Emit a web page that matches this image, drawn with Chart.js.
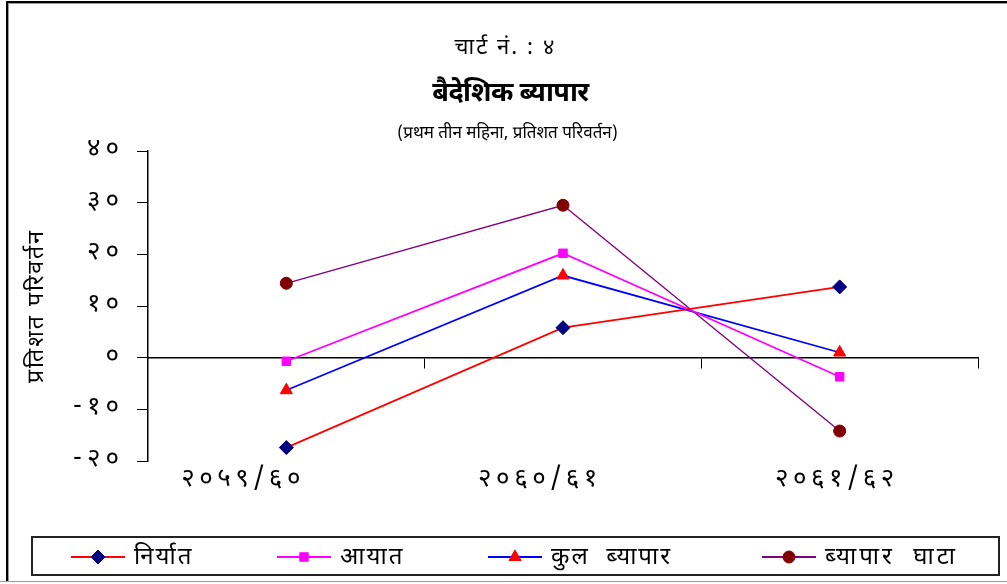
<!DOCTYPE html>
<html><head><meta charset="utf-8">
<script src="https://cdn.jsdelivr.net/npm/chart.js@4.4.1/dist/chart.umd.min.js"></script>
<style>html,body{margin:0;padding:0;background:#fff;overflow:hidden}</style>
</head><body>
<canvas id="c" width="1007" height="584"></canvas>
<script>
// ---- data ----
const categories = ['२०५९/६०', '२०६०/६१', '२०६१/६२'];
const seriesNames = ['निर्यात', 'आयात', 'कुल  ब्यापार', 'ब्यापार  घाटा'];
const exportsChange = [-17.4, 5.8, 13.7];
const importsChange = [-0.7, 20.2, -3.7];
const totalTradeChange = [-6.3, 15.9, 1.0];
const tradeDeficitChange = [14.4, 29.5, -14.2];
const yTickValues = [-20, -10, 0, 10, 20, 30, 40];
const yTickLabels = ['-२०', '-१०', '०', '१०', '२०', '३०', '४०'];
const chartNumber = 'चार्ट नं. : ४';
const chartTitle = 'बैदेशिक ब्यापार';
const chartSubtitle = '(प्रथम तीन महिना, प्रतिशत परिवर्तन)';
const yAxisTitle = 'प्रतिशत परिवर्तन';

const FONT = '"Noto Sans Devanagari", "Lohit Devanagari", "Noto Sans", sans-serif';

function makeSeries(label, data, lineColor, markColor, style, radius, width) {
  return {
    label, data,
    borderColor: lineColor, backgroundColor: markColor,
    pointBackgroundColor: markColor, pointBorderColor: markColor,
    pointStyle: style, pointRadius: radius, pointHoverRadius: radius,
    pointBorderWidth: 1, borderWidth: width, tension: 0, fill: false
  };
}

// draw a scale's tick labels with wider glyph spacing
function spaceLabels(scale, spacing) {
  if (scale._spacedLabels) return;
  scale._spacedLabels = true;
  const orig = scale.drawLabels;
  scale.drawLabels = function (area) {
    const ctx = this.ctx;
    const prev = ctx.letterSpacing;
    ctx.letterSpacing = spacing;
    orig.call(this, area);
    ctx.letterSpacing = prev;
  };
}

const frameAndTitles = {
  id: 'frameAndTitles',
  beforeDraw(chart) {
    const ctx = chart.ctx;
    const cx = chart.width / 2;
    ctx.save();
    ctx.letterSpacing = '0px';
    ctx.fillStyle = '#fff';
    ctx.fillRect(0, 0, chart.width, chart.height);
    ctx.fillStyle = '#000';
    ctx.fillRect(6, 1, 2, chart.height - 4);
    ctx.fillRect(6, 1, chart.width - 6, 2);
    ctx.fillStyle = '#9a9a9a';
    ctx.fillRect(8, 3, 1, chart.height - 6);
    ctx.fillRect(8, 3, chart.width - 8, 1);
    ctx.fillRect(0, chart.height - 3, chart.width, 1);
    ctx.fillStyle = '#000';
    ctx.textAlign = 'center';
    ctx.textBaseline = 'middle';
    ctx.letterSpacing = '2px';
    ctx.font = '22px ' + FONT;
    ctx.fillText(chartNumber, cx + 2, 50);
    ctx.letterSpacing = '-0.5px';
    ctx.font = 'bold 27px ' + FONT;
    ctx.fillText(chartTitle, cx + 7, 96);
    ctx.letterSpacing = '0px';
    ctx.font = '17px ' + FONT;
    ctx.fillText(chartSubtitle, cx + 4, 135);
    ctx.restore();
    ctx.letterSpacing = '2px';
  }
};

const boxLegend = {
  id: 'boxLegend',
  afterDraw(chart) {
    const ctx = chart.ctx;
    const box = { left: 32, top: 537, right: 999, bottom: 575 };
    ctx.save();
    ctx.strokeStyle = '#222';
    ctx.lineWidth = 2;
    ctx.strokeRect(box.left, box.top, box.right - box.left, box.bottom - box.top);
    const cy = (box.top + box.bottom) / 2 + 1;
    const starts = [71, 277, 488, 762];
    const gaps = ['2px', '2px', '2px', '3px'];
    chart.data.datasets.forEach((ds, i) => {
      const x0 = starts[i];
      ctx.strokeStyle = ds.borderColor;
      ctx.lineWidth = 2;
      ctx.beginPath(); ctx.moveTo(x0, cy); ctx.lineTo(x0 + 54, cy); ctx.stroke();
      ctx.fillStyle = ds.pointBackgroundColor;
      ctx.strokeStyle = ds.pointBorderColor;
      ctx.lineWidth = 1;
      Chart.helpers.drawPoint(ctx, { pointStyle: ds.pointStyle, radius: ds.pointRadius, borderWidth: 1, rotation: 0 }, x0 + 27, cy);
      ctx.fillStyle = '#000';
      ctx.letterSpacing = gaps[i];
      ctx.font = '24px ' + FONT;
      ctx.textAlign = 'left';
      ctx.textBaseline = 'middle';
      ctx.fillText(ds.label, x0 + 63, cy + 3);
    });
    ctx.restore();
  }
};

new Chart(document.getElementById('c'), {
  type: 'line',
  data: {
    labels: categories,
    datasets: [
      makeSeries(seriesNames[0], exportsChange, '#ff0000', '#000080', 'rectRot', 7, 1.8),
      makeSeries(seriesNames[1], importsChange, '#ff00ff', '#ff00ff', 'rect', 6, 1.8),
      makeSeries(seriesNames[2], totalTradeChange, '#0000ff', '#ff0000', 'triangle', 7, 1.8),
      makeSeries(seriesNames[3], tradeDeficitChange, '#800080', '#800000', 'circle', 6, 1.3)
    ]
  },
  plugins: [frameAndTitles, boxLegend],
  options: {
    responsive: false,
    animation: false,
    layout: { padding: { left: 32, right: 9, top: 151, bottom: 91 } },
    plugins: {
      legend: { display: false },
      tooltip: { enabled: false },
      title: { display: false },
      subtitle: { display: false }
    },
    scales: {
      x: {
        type: 'category', position: { y: 0 }, offset: true,
        grid: { display: true, drawOnChartArea: false, drawTicks: true, tickLength: 10, offset: true, color: '#000', lineWidth: 1 },
        border: { display: true, color: '#000', width: 1.5 },
        ticks: { display: false },
        afterFit(s) { s.paddingRight = 29; s.paddingLeft = 0; s.paddingTop = 0; }
      },
      x2: {
        type: 'linear', position: 'bottom', min: -0.32, max: 2.475,
        grid: { display: false, drawTicks: false },
        border: { display: false },
        afterBuildTicks(s) { s.ticks = categories.map((c, i) => ({ value: i })); },
        ticks: {
          color: '#000', font: { family: FONT, size: 26 }, padding: 5, maxRotation: 0, autoSkip: false,
          callback(v) { return categories[v] ?? ''; }
        },
        afterFit(s) { s.height = 32; s.paddingRight = 29; s.paddingLeft = 0; spaceLabels(s, '4.5px'); }
      },
      y: {
        min: -20, max: 40,
        grid: { display: true, drawOnChartArea: false, drawTicks: true, tickLength: 11, color: '#000', lineWidth: 1 },
        border: { display: true, color: '#000', width: 1.5 },
        afterBuildTicks(s) { s.ticks = yTickValues.map(v => ({ value: v })); },
        ticks: {
          color: '#000', font: { family: FONT, size: 26 }, padding: 13,
          callback(v) { const i = yTickValues.indexOf(v); return i >= 0 ? yTickLabels[i] : ''; }
        },
        title: { display: true, text: yAxisTitle, color: '#000', font: { family: FONT, size: 23 }, padding: { top: -7, bottom: 0 } },
        afterFit(s) { s.width = 116; s.paddingTop = 0; spaceLabels(s, '5px'); }
      }
    }
  }
});
</script>
</body></html>
